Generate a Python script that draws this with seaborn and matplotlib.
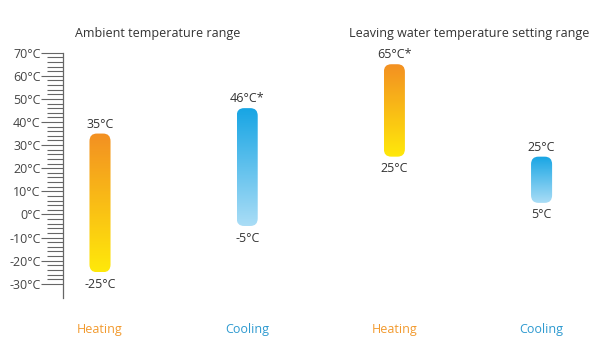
import numpy as np
import matplotlib
matplotlib.use("Agg")
import matplotlib.pyplot as plt
from matplotlib.colors import LinearSegmentedColormap
from matplotlib.patches import FancyBboxPatch
from matplotlib.ticker import FixedLocator, FuncFormatter
import seaborn as sns

# Temperature ranges (deg C)
bar_keys = ["amb_heat", "amb_cool", "lw_heat", "lw_cool"]
modes = ["Heating", "Cooling", "Heating", "Cooling"]
low_temps = [-25, -5, 25, 5]
high_temps = [35, 46, 65, 25]
low_labels = ["-25°C", "-5°C", "25°C", "5°C"]
high_labels = ["35°C", "46°C*", "65°C*", "25°C"]
group_titles = ["Ambient temperature range", "Leaving water temperature setting range"]
scale_major = np.arange(-30, 71, 10)
scale_minor = np.arange(-30, 71, 2)

# colours: (bottom, top) of each gradient
grad_colors = {
    "Heating": ("#FFE90A", "#F39022"),
    "Cooling": ("#AADDF6", "#17A5E4"),
}
label_colors = {"Heating": "#F29A2E", "Cooling": "#2E9AD0"}

sns.set_theme(style="white")
plt.rcParams["font.family"] = ["Open Sans", "DejaVu Sans"]

fig = plt.figure(figsize=(6, 3.6), dpi=100)
ax = fig.add_axes([63 / 600, 0, 537 / 600, 1])

spans = [h - l for h, l in zip(high_temps, low_temps)]
sns.barplot(x=bar_keys, y=spans, bottom=low_temps, order=bar_keys,
            width=0.143, color="#cccccc", ax=ax)

ax.set_xlim(-0.2514, 3.397)
ax.set_ylim(-63.0, 92.8)

# gradient fill clipped to a rounded bar
for patch, mode in zip(list(ax.patches), modes):
    x0, y0 = patch.get_x(), patch.get_y()
    w, h = patch.get_width(), patch.get_height()
    patch.set_visible(False)
    bot, top = grad_colors[mode]
    cmap = LinearSegmentedColormap.from_list(mode, [bot, top])
    grad = np.linspace(0, 1, 256).reshape(-1, 1)
    im = ax.imshow(grad, cmap=cmap, origin="lower", aspect="auto",
                   extent=[x0, x0 + w, y0, y0 + h], zorder=3)
    clip = FancyBboxPatch((x0, y0), w, h,
                          boxstyle="round,pad=0,rounding_size=0.05",
                          mutation_aspect=66, transform=ax.transData,
                          facecolor="none", edgecolor="none")
    ax.add_patch(clip)
    im.set_clip_path(clip)

for i, key in enumerate(bar_keys):
    ax.annotate(high_labels[i], (i, high_temps[i]), xytext=(0, 2),
                textcoords="offset points", ha="center", va="bottom",
                fontsize=9, color="#333333")
    ax.annotate(low_labels[i], (i, low_temps[i]), xytext=(0, -4),
                textcoords="offset points", ha="center", va="top",
                fontsize=9, color="#333333")
    ax.text(i, 0.086, modes[i], transform=ax.get_xaxis_transform(),
            ha="center", va="center", fontsize=9,
            color=label_colors[modes[i]])

# thermometer style axis
for side in ["top", "right", "bottom"]:
    ax.spines[side].set_visible(False)
ax.spines["left"].set_color("#666666")
ax.spines["left"].set_linewidth(0.9)
ax.spines["left"].set_bounds(-36, 70)
ax.set_xticks([])
ax.yaxis.set_major_locator(FixedLocator(scale_major))
ax.yaxis.set_minor_locator(FixedLocator(scale_minor))
ax.yaxis.set_major_formatter(FuncFormatter(lambda v, p: f"{v:.0f}°C"))
ax.tick_params(axis="y", which="major", length=16, width=0.8, color="#666666",
               pad=0, labelsize=9, labelcolor="#444444", left=True)
ax.tick_params(axis="y", which="minor", length=11.5, width=0.8, color="#666666",
               left=True)
ax.set_ylabel("")

fig.text(158 / 600, 1 - 33 / 360, group_titles[0], ha="center", va="center",
         fontsize=9, color="#333333")
fig.text(469 / 600, 1 - 33 / 360, group_titles[1], ha="center", va="center",
         fontsize=9, color="#333333")

fig.savefig("out.png", dpi=100)
